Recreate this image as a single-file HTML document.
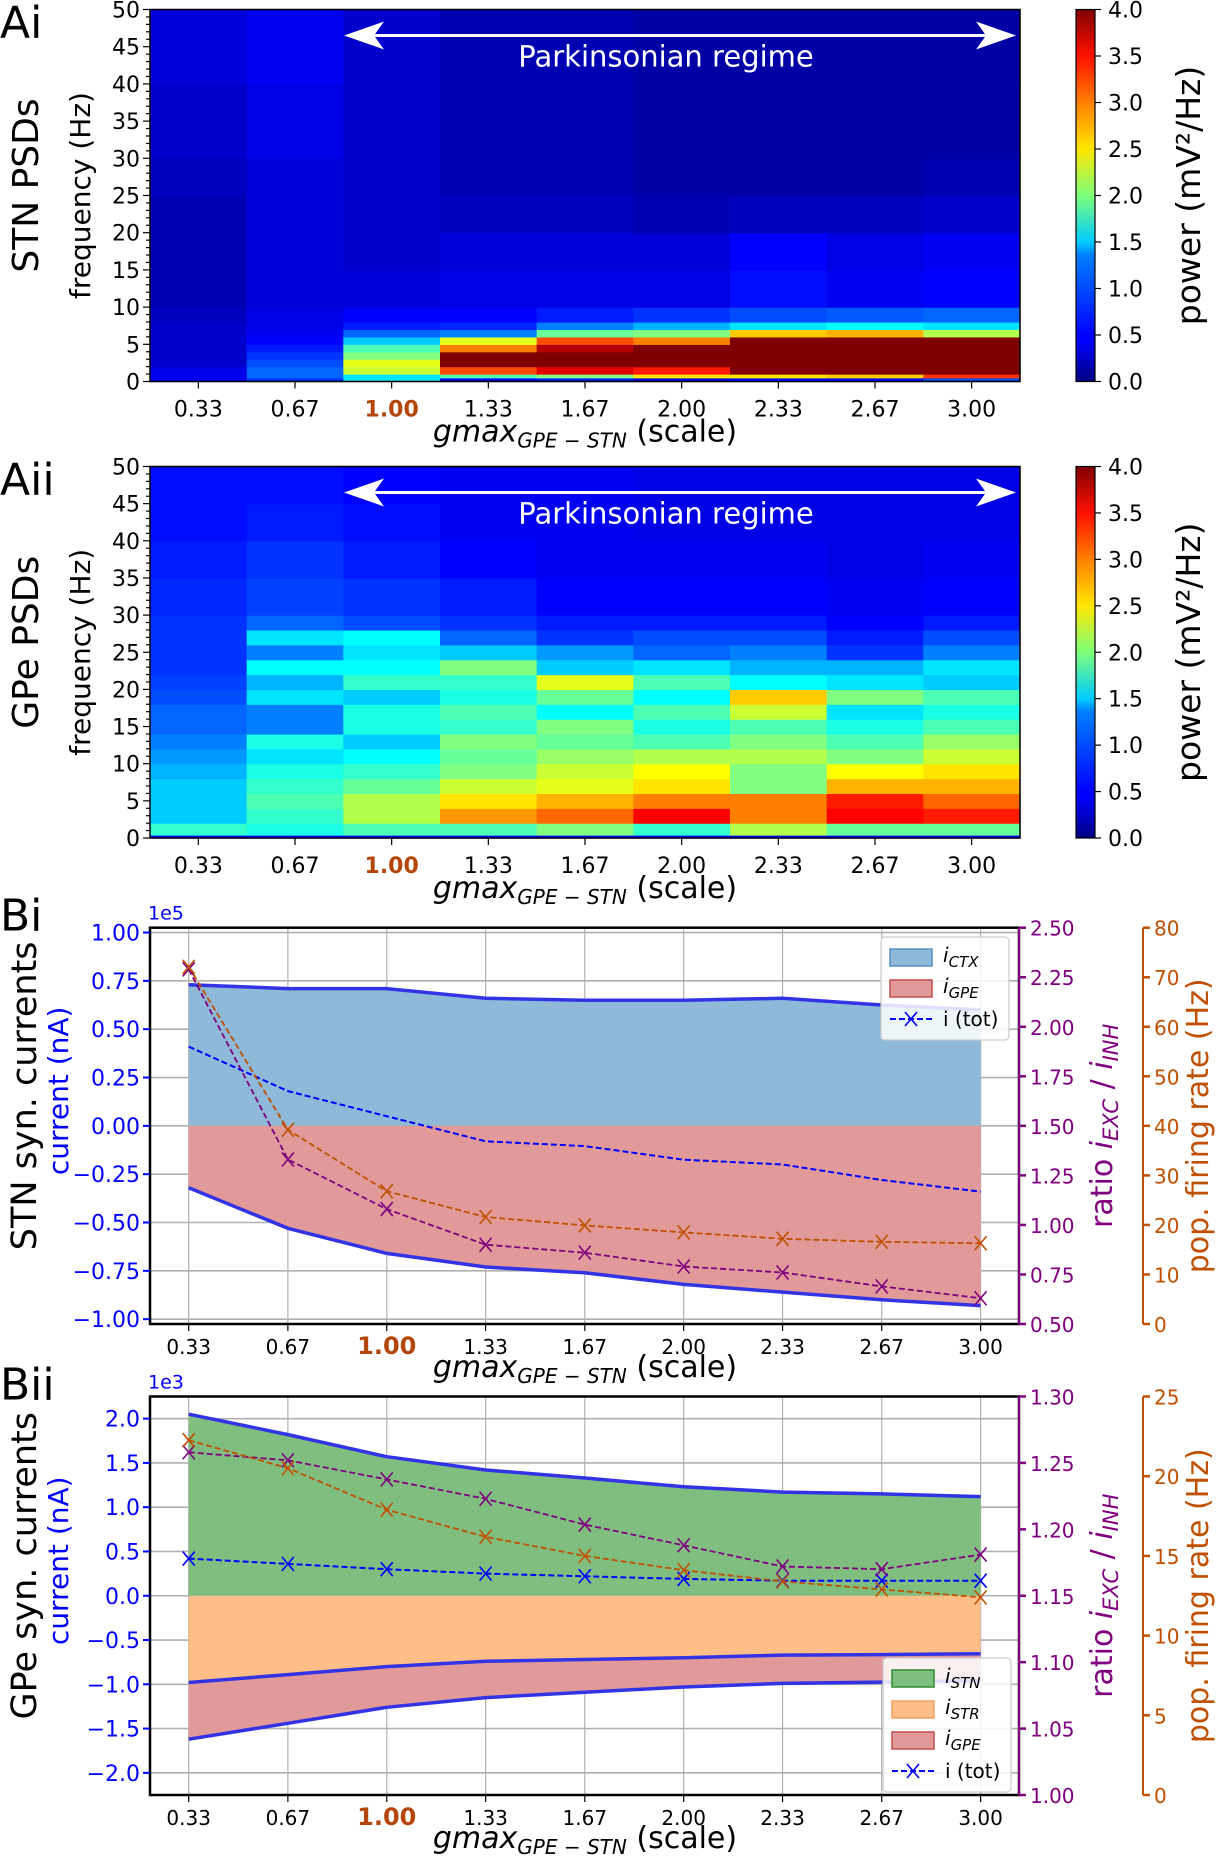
<!DOCTYPE html>
<html><head><meta charset="utf-8">
<style>
html,body{margin:0;padding:0;background:#fff;}
svg{display:block;font-family:"DejaVu Sans","Liberation Sans",sans-serif;}
</style></head>
<body>
<svg id="fig" width="1217" height="1858" viewBox="0 0 1217 1858" xmlns="http://www.w3.org/2000/svg">
<defs>
<linearGradient id="jetgrad" x1="0" y1="1" x2="0" y2="0">
<stop offset="0" stop-color="#000080"/><stop offset="0.11" stop-color="#0000ff"/><stop offset="0.125" stop-color="#0000ff"/>
<stop offset="0.34" stop-color="#0080ff"/><stop offset="0.375" stop-color="#00ccff"/><stop offset="0.5" stop-color="#7dff7a"/>
<stop offset="0.625" stop-color="#ffe600"/><stop offset="0.75" stop-color="#ff8000"/><stop offset="0.875" stop-color="#ff1100"/><stop offset="1" stop-color="#800000"/>
</linearGradient>
</defs>
</svg>
<script>
// ---------- DATA ----------
const scales = [0.333, 0.667, 1.0, 1.333, 1.667, 2.0, 2.333, 2.667, 3.0];
const scaleLabels = ["0.33","0.67","1.00","1.33","1.67","2.00","2.33","2.67","3.00"];

const stnEdges = [0,0.5,1,2,3,4,5,6,7,8,10,15,20,25,30,40,50];
const stnPower = [
 [0.45,0.45,0.4,0.3,0.3,0.3,0.3,0.3,0.3,0.25,0.2,0.2,0.2,0.25,0.3,0.35],
 [0.7,0.9,0.9,0.8,0.7,0.6,0.5,0.45,0.4,0.4,0.35,0.35,0.35,0.35,0.4,0.45],
 [1.4,1.4,2.3,2.4,2.0,1.8,1.3,0.9,0.6,0.5,0.35,0.3,0.3,0.3,0.3,0.3],
 [0.5,1.8,3.2,4,4,3.0,2.4,1.0,0.65,0.5,0.4,0.35,0.25,0.2,0.2,0.2],
 [0.6,2.0,3.6,4,4,3.8,3.2,1.9,1.0,0.6,0.4,0.35,0.25,0.2,0.2,0.2],
 [0.4,2.6,3.4,4,4,4,3.0,2.0,1.2,0.7,0.4,0.35,0.2,0.15,0.15,0.15],
 [0.5,2.6,4,4,4,4,4,2.7,1.4,0.8,0.55,0.5,0.25,0.15,0.15,0.15],
 [0.5,2.7,4,4,4,4,4,2.8,1.5,0.85,0.45,0.4,0.25,0.15,0.15,0.15],
 [0.8,3.3,4,4,4,4,4,2.2,1.4,0.9,0.5,0.45,0.3,0.2,0.15,0.15]
];

const gpeEdges = [0,0.4,2,4,6,8,10,12,14,16,18,20,22,24,26,28,30,35,40,45,50];
const gpePower = [
 [0.5,1.7,1.3,1.3,1.3,1.2,1.1,1.0,0.9,0.9,0.8,0.75,0.7,0.7,0.7,0.7,0.65,0.6,0.55,0.55],
 [0.5,1.6,1.7,1.8,1.7,1.6,1.4,1.6,1.0,1.0,1.4,1.2,1.5,1.0,1.4,0.9,0.75,0.7,0.6,0.55],
 [0.5,1.8,2.2,2.2,1.9,1.7,1.5,1.3,1.6,1.6,1.3,1.7,1.5,1.4,1.5,0.8,0.7,0.6,0.55,0.5],
 [0.5,1.8,2.9,2.6,2.3,2.0,1.9,2.0,1.7,1.8,1.6,1.7,2.0,1.3,0.9,0.7,0.6,0.5,0.45,0.45],
 [0.5,2.0,3.1,2.8,2.4,2.3,2.1,1.9,2.0,1.5,1.9,2.4,1.3,1.1,0.7,0.6,0.5,0.45,0.45,0.45],
 [0.5,1.7,3.5,3.0,2.6,2.5,2.2,1.8,1.6,1.8,1.5,1.8,1.4,0.9,0.8,0.6,0.5,0.45,0.4,0.4],
 [0.5,2.2,3.0,3.0,2.0,2.0,2.2,2.0,1.8,2.3,2.7,1.5,1.2,1.0,0.8,0.6,0.5,0.45,0.4,0.4],
 [0.5,1.9,3.5,3.4,2.8,2.5,2.0,1.8,1.6,1.4,2.0,1.4,1.2,0.7,0.6,0.5,0.45,0.4,0.4,0.4],
 [0.5,1.9,3.4,3.1,2.8,2.6,2.3,2.1,1.8,1.6,1.8,1.3,1.4,1.0,0.8,0.6,0.5,0.45,0.4,0.4]
];

const biCtx = [0.73,0.71,0.71,0.66,0.65,0.65,0.66,0.625,0.60];
const biGpe = [-0.32,-0.53,-0.66,-0.73,-0.76,-0.82,-0.86,-0.90,-0.93];
const biTot = [0.41,0.18,0.05,-0.08,-0.105,-0.175,-0.20,-0.28,-0.34];
const biRatio = [2.29,1.33,1.08,0.90,0.86,0.79,0.76,0.69,0.63];
const biRate = [72.1,39.2,26.8,21.6,19.9,18.5,17.2,16.6,16.3];

const biiStn = [2.05,1.82,1.57,1.42,1.33,1.23,1.17,1.15,1.12];
const biiStr = [-0.98,-0.89,-0.80,-0.74,-0.72,-0.70,-0.67,-0.665,-0.655];
const biiGpe = [-1.62,-1.44,-1.26,-1.15,-1.09,-1.03,-0.99,-0.975,-0.96];
const biiTot = [0.42,0.36,0.30,0.25,0.22,0.19,0.17,0.17,0.17];
const biiRatio = [1.258,1.252,1.2376,1.223,1.2036,1.188,1.172,1.170,1.181];
const biiRate = [22.26,20.5,17.9,16.2,15.0,14.1,13.4,12.9,12.4];

const psdTicks = [0,5,10,15,20,25,30,35,40,45,50];
const cbTicks = ["0.0","0.5","1.0","1.5","2.0","2.5","3.0","3.5","4.0"];
const biLeftTicks = ["-1.00","-0.75","-0.50","-0.25","0.00","0.25","0.50","0.75","1.00"];
const biRatioTicks = ["0.50","0.75","1.00","1.25","1.50","1.75","2.00","2.25","2.50"];
const biRateTicks = [0,10,20,30,40,50,60,70,80];
const biiLeftTicks = ["-2.0","-1.5","-1.0","-0.5","0.0","0.5","1.0","1.5","2.0"];
const biiRatioTicks = ["1.00","1.05","1.10","1.15","1.20","1.25","1.30"];
const biiRateTicks = [0,5,10,15,20,25];

// ---------- HELPERS ----------
const NS = 'http://www.w3.org/2000/svg';
const svg = document.getElementById('fig');
function mk(tag, attrs, parent) {
  const e = document.createElementNS(NS, tag);
  for (const k in attrs) e.setAttribute(k, attrs[k]);
  (parent || svg).appendChild(e);
  return e;
}
function txt(s, attrs, parent) { const e = mk('text', attrs, parent); e.textContent = s; return e; }
function jet(t) {
  t = Math.max(0, Math.min(1, t));
  const c = v => Math.round(255 * Math.max(0, Math.min(1, v)));
  return 'rgb(' + c(1.5 - Math.abs(4*t - 3)) + ',' + c(1.5 - Math.abs(4*t - 2)) + ',' + c(1.5 - Math.abs(4*t - 1)) + ')';
}
const BROWN = '#b4460a', PURPLE = '#800080', ORANGE = '#c05000', BLUE = '#0000ff';

function xTitle(y, name) {
  const t = mk('text', {x: 585, y: y, 'font-size': 30, 'text-anchor': 'middle'});
  
  
  t.innerHTML = '<tspan font-style="italic">gmax</tspan><tspan font-style="italic" font-size="20" dy="6">GPE − STN</tspan><tspan dy="-6"> (scale)</tspan>';
}
function rotText(s, cx, cy, size, fill, name) {
  const t = txt(s, {x: 0, y: 0, 'font-size': size, fill: fill, 'text-anchor': 'middle', transform: 'translate(' + cx + ',' + cy + ') rotate(-90)'});
  
  
  return t;
}

// ---------- HEATMAP PANELS ----------
function heatPanel(top, bottom, edges, power, prefix, title, label) {
  const L = 150, R = 1020;
  const w = (R - L) / scales.length;
  const yF = f => bottom - (f / 50) * (bottom - top);
  const g = mk('g', {});
  
  
  power.forEach((col, c) => {
    col.forEach((v, b) => {
      const y1 = yF(edges[b + 1]), y0 = yF(edges[b]);
      const r = mk('rect', {x: L + c * w, y: y1, width: w + 0.6, height: y0 - y1 + 0.6, fill: jet(v / 4)}, g);
      
      
    });
  });
  const fr = mk('rect', {x: L, y: top, width: R - L, height: bottom - top, fill: 'none', stroke: '#000', 'stroke-width': 1.5});
  
  
  for (let f = 0; f <= 50; f++) {
    const y = yF(f);
    const major = f % 5 === 0;
    mk('line', {x1: L - (major ? 7 : 4), x2: L, y1: y, y2: y, stroke: '#000', 'stroke-width': 1.2});
  }
  psdTicks.forEach(f => {
    const t = txt(String(f), {x: L - 10, y: yF(f) + 8, 'font-size': 22, 'text-anchor': 'end'});
    
    
  });
  scaleLabels.forEach((s, i) => {
    const x = L + (i + 0.5) * w;
    mk('line', {x1: x, x2: x, y1: bottom, y2: bottom + 7, stroke: '#000', 'stroke-width': 1.2});
    const t = txt(s, {x: x, y: bottom + 35, 'font-size': 22, 'text-anchor': 'middle', fill: i === 2 ? BROWN : '#000', 'font-weight': i === 2 ? 'bold' : 'normal'});
    
    
  });
  xTitle(bottom + 60, prefix + '-x-axis-title');
  rotText('frequency (Hz)', 90, (top + bottom) / 2, 28, '#000', prefix + '-y-axis-title');
  rotText(title, 38, (top + bottom) / 2 - 10, 36, '#000', prefix + '-panel-title');
  const pl = txt(label, {x: 0, y: top + 28, 'font-size': 44});
  
  
  const ay = top + 26;
  const ar = mk('g', {});
  
  
  mk('line', {x1: 360, x2: 1000, y1: ay, y2: ay, stroke: '#fff', 'stroke-width': 3}, ar);
  mk('polygon', {points: '344,' + ay + ' 384,' + (ay - 14) + ' 374,' + ay + ' 384,' + (ay + 14), fill: '#fff'}, ar);
  mk('polygon', {points: '1016,' + ay + ' 976,' + (ay - 14) + ' 986,' + ay + ' 976,' + (ay + 14), fill: '#fff'}, ar);
  const pt = txt('Parkinsonian regime', {x: 666, y: ay + 31, 'font-size': 29, fill: '#fff', 'text-anchor': 'middle'});
  
  
  const cb = mk('rect', {x: 1076, y: top, width: 19, height: bottom - top, fill: 'url(#jetgrad)', stroke: '#000', 'stroke-width': 1.2});
  
  
  cbTicks.forEach((s, i) => {
    const y = bottom - (i / 8) * (bottom - top);
    mk('line', {x1: 1095, x2: 1101, y1: y, y2: y, stroke: '#000', 'stroke-width': 1.2});
    const t = txt(s, {x: 1108, y: y + 8, 'font-size': 22});
    
    
  });
  rotText('power (mV²/Hz)', 1200, (top + bottom) / 2, 33, '#000', prefix + '-colorbar-title');
}
heatPanel(9.5, 381.5, stnEdges, stnPower, 'stn-psd', 'STN PSDs', 'Ai');
heatPanel(466.5, 838, gpeEdges, gpePower, 'gpe-psd', 'GPe PSDs', 'Aii');

// ---------- CURRENT PANELS ----------
function linePath(xs, ys) { return xs.map((x, i) => (i ? 'L' : 'M') + x.toFixed(1) + ',' + ys[i].toFixed(1)).join(' '); }
function cross(g, x, y, color) {
  mk('path', {d: 'M' + (x - 6) + ',' + (y - 7) + ' L' + (x + 6) + ',' + (y + 7) + ' M' + (x + 6) + ',' + (y - 7) + ' L' + (x - 6) + ',' + (y + 7), stroke: color, 'stroke-width': 1.6, fill: 'none'}, g);
}
function currPanel(o) {
  const L = 150, R = 1019, top = o.top, bottom = o.bottom;
  const xS = v => 188.7 + (v - 0.333) / 2.667 * 791.9;
  const yS = v => top + (o.ymax - v) / (o.ymax - o.ymin) * (bottom - top);
  const rS = v => bottom - (v - o.rmin) / (o.rmax - o.rmin) * (bottom - top);
  const fS = v => bottom - (v - o.fmin) / (o.fmax - o.fmin) * (bottom - top);
  const xs = scales.map(xS);
  const grid = mk('g', {});
  
  
  xs.forEach(x => mk('line', {x1: x, x2: x, y1: top, y2: bottom, stroke: '#b0b0b0', 'stroke-width': 1.2}, grid));
  o.lt.forEach(s => { const y = yS(parseFloat(s)); mk('line', {x1: L, x2: R, y1: y, y2: y, stroke: '#b0b0b0', 'stroke-width': 1.6}, grid); });
  o.fills.forEach(f => {
    const up = f.upper.map(yS), lo = f.lower.map(yS);
    const d = linePath(xs, up) + ' ' + xs.slice().reverse().map((x, i) => 'L' + x.toFixed(1) + ',' + lo[lo.length - 1 - i].toFixed(1)).join(' ') + ' Z';
    const a = mk('path', {d: d, fill: f.color});
    
    
  });
  o.bounds.forEach(b => {
    const l = mk('path', {d: linePath(xs, b.map(yS)), stroke: '#3333e6', 'stroke-width': 3.5, fill: 'none'});
    
    
  });
  const tg = mk('g', {});
  
  
  mk('path', {d: linePath(xs, o.tot.map(yS)), stroke: BLUE, 'stroke-width': 2, 'stroke-dasharray': '6,3', fill: 'none'}, tg);
  if (o.totMarkers) xs.forEach((x, i) => cross(tg, x, yS(o.tot[i]), BLUE));
  const rg = mk('g', {});
  
  
  mk('path', {d: linePath(xs, o.ratio.map(rS)), stroke: PURPLE, 'stroke-width': 1.8, 'stroke-dasharray': '6,3', fill: 'none'}, rg);
  xs.forEach((x, i) => cross(rg, x, rS(o.ratio[i]), PURPLE));
  const fg = mk('g', {});
  
  
  mk('path', {d: linePath(xs, o.rate.map(fS)), stroke: ORANGE, 'stroke-width': 1.8, 'stroke-dasharray': '6,3', fill: 'none'}, fg);
  xs.forEach((x, i) => cross(fg, x, fS(o.rate[i]), ORANGE));
  const fr = mk('rect', {x: L, y: top, width: R - L, height: bottom - top, fill: 'none', stroke: '#000', 'stroke-width': 2.5});
  
  
  o.lt.forEach(s => {
    const y = yS(parseFloat(s));
    mk('line', {x1: L - 7, x2: L, y1: y, y2: y, stroke: BLUE, 'stroke-width': 2});
    const t = txt(s.replace('-', '−'), {x: L - 10, y: y + 8, 'font-size': 22, fill: BLUE, 'text-anchor': 'end'});
    
    
  });
  const ex = txt(o.exp, {x: 148, y: top - 8, 'font-size': 19, fill: BLUE});
  
  
  xs.forEach((x, i) => {
    mk('line', {x1: x, x2: x, y1: bottom, y2: bottom + 7, stroke: '#000', 'stroke-width': 1.2});
    const t = txt(scaleLabels[i], {x: x, y: bottom + 30, 'text-anchor': 'middle', fill: i === 2 ? BROWN : '#000', 'font-weight': i === 2 ? 'bold' : 'normal', 'font-size': i === 2 ? 24 : 20});
    
    
  });
  xTitle(bottom + 53, o.p + '-x-axis-title');
  mk('line', {x1: R, x2: R, y1: top, y2: bottom, stroke: PURPLE, 'stroke-width': 2});
  o.rt.forEach(s => {
    const y = rS(parseFloat(s));
    mk('line', {x1: R, x2: R + 7, y1: y, y2: y, stroke: PURPLE, 'stroke-width': 2.5});
    const t = txt(s, {x: R + 11, y: y + 8, 'font-size': 20, fill: PURPLE});
    
    
  });
  const FX = 1143;
  mk('line', {x1: FX, x2: FX, y1: top, y2: bottom, stroke: ORANGE, 'stroke-width': 2});
  o.ft.forEach(v => {
    const y = fS(v);
    mk('line', {x1: FX, x2: FX + 7, y1: y, y2: y, stroke: ORANGE, 'stroke-width': 2.5});
    const t = txt(String(v), {x: FX + 11, y: y + 8, 'font-size': 20, fill: ORANGE});
    
    
  });
  const cy = (top + bottom) / 2;
  const rt = mk('text', {x: 0, y: 0, 'font-size': 30, fill: PURPLE, 'text-anchor': 'middle', transform: 'translate(1112,' + cy + ') rotate(-90)'});
  
  
  rt.innerHTML = 'ratio <tspan font-style="italic">i</tspan><tspan font-style="italic" font-size="21" dy="6">EXC</tspan><tspan dy="-6"> / </tspan><tspan font-style="italic">i</tspan><tspan font-style="italic" font-size="21" dy="6">INH</tspan>';
  rotText('pop. firing rate (Hz)', 1208, cy, 30, ORANGE, o.p + '-firing-rate-axis-title');
  rotText('current (nA)', 68, cy - 35, 28, BLUE, o.p + '-y-axis-title');
  rotText(o.title, 36, cy - 30, 35, '#000', o.p + '-panel-title');
  const pl = txt(o.label, {x: 0, y: top + 3, 'font-size': 44});
  
  
  const lg = mk('g', {});
  
  
  mk('rect', {x: o.lx, y: o.ly, width: 128, height: o.legend.length * 31 + 10, rx: 4, fill: 'rgba(255,255,255,0.85)', stroke: '#ccc', 'stroke-width': 1.2}, lg);
  o.legend.forEach((e, i) => {
    const y = o.ly + 20 + i * 31;
    const item = mk('g', {}, lg);
    
    
    if (e.color) {
      mk('rect', {x: o.lx + 9, y: y - 8, width: 42, height: 17, fill: e.color, stroke: e.edge, 'stroke-width': 1.5}, item);
      const t = mk('text', {x: o.lx + 62, y: y + 5, 'font-size': 20}, item);
      t.innerHTML = '<tspan font-style="italic">i</tspan><tspan font-style="italic" font-size="15" dy="5">' + e.sub + '</tspan>';
    } else {
      mk('line', {x1: o.lx + 9, x2: o.lx + 51, y1: y, y2: y, stroke: BLUE, 'stroke-width': 2, 'stroke-dasharray': '6,3'}, item);
      cross(item, o.lx + 30, y, BLUE);
      txt('i (tot)', {x: o.lx + 62, y: y + 7, 'font-size': 20}, item);
    }
  });
}

currPanel({p: 'stn-currents', top: 927.7, bottom: 1324, ymin: -1.025, ymax: 1.025,
  rmin: 0.5, rmax: 2.5, fmin: 0, fmax: 80,
  lt: biLeftTicks, rt: biRatioTicks, ft: biRateTicks, exp: '1e5',
  fills: [
    {name: 'i-ctx-area', color: 'rgb(143,185,216)', upper: biCtx, lower: biCtx.map(v => 0)},
    {name: 'i-gpe-area', color: 'rgb(225,153,153)', upper: biGpe.map(v => 0), lower: biGpe}
  ],
  bounds: [biCtx, biGpe], tot: biTot, totMarkers: false, ratio: biRatio, rate: biRate,
  title: 'STN syn. currents', label: 'Bi', lx: 881, ly: 937,
  legend: [{color: 'rgb(143,185,216)', edge: '#5a8fc0', sub: 'CTX'}, {color: 'rgb(225,153,153)', edge: '#c05050', sub: 'GPE'}, {tot: true}]
});
currPanel({p: 'gpe-currents', top: 1396.5, bottom: 1795, ymin: -2.25, ymax: 2.25,
  rmin: 1.0, rmax: 1.3, fmin: 0, fmax: 25,
  lt: biiLeftTicks, rt: biiRatioTicks, ft: biiRateTicks, exp: '1e3',
  fills: [
    {name: 'i-stn-area', color: 'rgb(128,190,128)', upper: biiStn, lower: biiStn.map(v => 0)},
    {name: 'i-str-area', color: 'rgb(255,190,135)', upper: biiStr.map(v => 0), lower: biiStr},
    {name: 'i-gpe-area', color: 'rgb(225,153,153)', upper: biiStr, lower: biiGpe}
  ],
  bounds: [biiStn, biiStr, biiGpe], tot: biiTot, totMarkers: true, ratio: biiRatio, rate: biiRate,
  title: 'GPe syn. currents', label: 'Bii', lx: 883, ly: 1658,
  legend: [{color: 'rgb(128,190,128)', edge: '#2e8b2e', sub: 'STN'}, {color: 'rgb(255,190,135)', edge: '#f0a060', sub: 'STR'}, {color: 'rgb(225,153,153)', edge: '#c05050', sub: 'GPE'}, {tot: true}]
});
</script>
</body></html>
